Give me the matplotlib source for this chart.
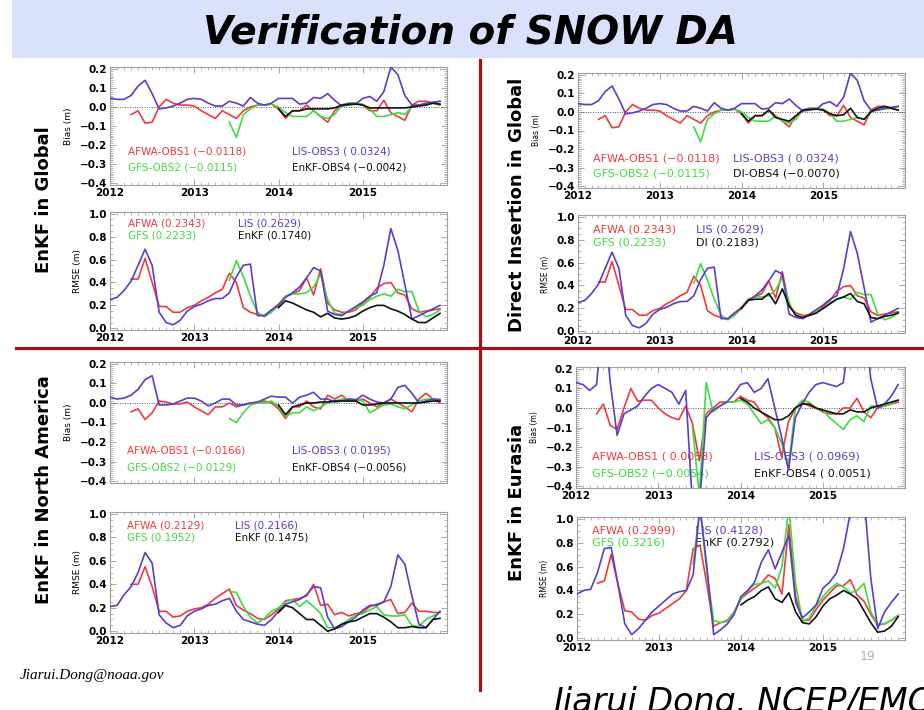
import numpy as np
import matplotlib
matplotlib.use("Agg")
import matplotlib.pyplot as plt
from matplotlib.patches import Rectangle
from matplotlib.lines import Line2D
from matplotlib.ticker import MultipleLocator, AutoMinorLocator

nan = np.nan
months = 2012 + np.arange(48) / 12.0
year_ticks = [2012, 2013, 2014, 2015]


def pad(start, vals):
    """Put vals on the 48-month grid, starting at month index start."""
    out = np.full(48, nan)
    vals = list(vals)[:48 - start]
    out[start:start + len(vals)] = vals
    return out


# ---------------- EnKF / DI in Global ----------------
glb_bias_afwa = pad(3, [-0.04, -0.02, -0.085, -0.08, 0.0, 0.04, 0.02, 0.01, 0.01, 0.005, -0.02, -0.04,
                        -0.06, -0.02, -0.04, -0.06, -0.02, 0.0, 0.01, 0.01, 0.015, -0.01, -0.06, -0.02,
                        -0.02, 0.01, -0.02, -0.05, -0.08, -0.02, 0.01, 0.02, 0.02, 0.01, -0.02, -0.02,
                        0.035, -0.03, -0.05, -0.07, 0.01, 0.03, 0.03, 0.02, 0.01])
glb_bias_gfs = pad(17, [-0.08, -0.16, -0.04, -0.01, 0.01, 0.01, 0.015, 0.0, -0.03, -0.05, -0.05, -0.05,
                        -0.02, -0.05, -0.06, -0.04, 0.01, 0.02, 0.02, 0.015, -0.01, -0.05, -0.05, -0.04,
                        -0.03, -0.04, 0.0, 0.01, 0.015, 0.02, 0.03])
glb_bias_lis = pad(0, [0.045, 0.04, 0.04, 0.06, 0.11, 0.14, 0.07, -0.01, -0.005, 0.005, 0.02, 0.04,
                       0.045, 0.04, 0.02, 0.005, 0.005, 0.03, 0.02, 0.005, 0.05, 0.02, 0.01, 0.02,
                       0.045, 0.045, 0.045, 0.015, 0.02, 0.05, 0.045, 0.07, 0.035, 0.005, 0.01, 0.015,
                       0.045, 0.055, 0.03, 0.08, 0.21, 0.17, 0.06, 0.01, 0.01, 0.02, 0.025, 0.03])
glb_bias_enkf = pad(24, [-0.01, -0.05, -0.02, -0.02, -0.01, -0.01, -0.01, -0.01, -0.005, 0.01, 0.015, 0.015,
                         0.01, -0.005, -0.005, -0.005, -0.005, -0.005, -0.005, 0.0, 0.005, 0.01, 0.02, 0.015])
glb_bias_di = pad(24, [-0.01, -0.05, -0.02, -0.02, 0.01, -0.03, -0.04, -0.05, -0.02, 0.01, 0.015, 0.015,
                       0.01, -0.01, -0.02, -0.015, 0.02, -0.03, -0.04, 0.0, 0.02, 0.03, 0.02, 0.01])

glb_rmse_afwa = pad(3, [0.43, 0.43, 0.61, 0.40, 0.19, 0.19, 0.14, 0.14, 0.18,
                        0.20, 0.24, 0.27, 0.31, 0.34, 0.48, 0.40, 0.18, 0.14, 0.12, 0.11, 0.16,
                        0.21, 0.28, 0.30, 0.33, 0.44, 0.29, 0.52, 0.22, 0.16, 0.14, 0.14, 0.16,
                        0.22, 0.27, 0.35, 0.39, 0.40, 0.31, 0.29, 0.17, 0.14, 0.15, 0.16, 0.17])
glb_rmse_gfs = pad(17, [0.42, 0.59, 0.45, 0.28, 0.14, 0.10, 0.14,
                        0.20, 0.28, 0.30, 0.30, 0.31, 0.36, 0.47, 0.25, 0.13, 0.12, 0.15, 0.18,
                        0.20, 0.25, 0.28, 0.30, 0.28, 0.34, 0.32, 0.32, 0.15, 0.10, 0.12, 0.16])
glb_rmse_lis = pad(0, [0.25, 0.27, 0.33, 0.41, 0.55, 0.69, 0.55, 0.14, 0.05, 0.03, 0.07, 0.15,
                       0.19, 0.21, 0.24, 0.26, 0.26, 0.31, 0.45, 0.55, 0.56, 0.11, 0.11, 0.16,
                       0.20, 0.27, 0.31, 0.36, 0.44, 0.53, 0.50, 0.15, 0.12, 0.11, 0.15, 0.19,
                       0.23, 0.28, 0.31, 0.55, 0.87, 0.68, 0.38, 0.08, 0.11, 0.14, 0.17, 0.20])
glb_rmse_enkf = pad(24, [0.18, 0.24, 0.22, 0.19, 0.16, 0.14, 0.10, 0.13, 0.09, 0.08, 0.09, 0.11,
                         0.15, 0.18, 0.20, 0.20, 0.17, 0.15, 0.12, 0.08, 0.05, 0.05, 0.09, 0.13])
glb_rmse_di = pad(24, [0.20, 0.27, 0.28, 0.28, 0.33, 0.24, 0.37, 0.22, 0.14, 0.12, 0.14, 0.16,
                       0.20, 0.24, 0.28, 0.30, 0.33, 0.26, 0.24, 0.12, 0.11, 0.13, 0.14, 0.16])

# ---------------- EnKF in North America ----------------
na_bias_afwa = pad(3, [-0.045, -0.03, -0.085, -0.05, 0.01, 0.005, -0.005, -0.005, 0.005,
                       -0.02, -0.04, -0.06, -0.02, -0.02, 0.0, -0.02, -0.01, 0.0, 0.0, 0.01, 0.0,
                       -0.03, -0.08, -0.02, -0.02, 0.01, -0.02, -0.03, 0.04, 0.02, 0.04, 0.01, 0.01,
                       0.02, 0.0, -0.02, 0.0, 0.02, 0.0, -0.02, -0.045, 0.02, 0.05, 0.02, 0.0])
na_bias_gfs = pad(17, [-0.08, -0.1, -0.05, -0.01, 0.0, 0.0, 0.01,
                       -0.02, -0.07, -0.05, -0.05, -0.02, -0.04, -0.02, 0.0, 0.01, 0.02, 0.02, 0.02,
                       0.01, -0.05, -0.03, -0.01, -0.005, -0.02, -0.03, -0.01, 0.01, 0.02, 0.02, 0.02])
na_bias_lis = pad(0, [0.03, 0.02, 0.025, 0.04, 0.07, 0.12, 0.14, -0.01, -0.01, -0.005, 0.01, 0.025,
                      0.025, 0.01, -0.015, 0.0, 0.02, 0.02, -0.01, -0.01, 0.0, 0.005, 0.02, 0.035,
                      0.03, 0.03, 0.0, 0.03, 0.04, 0.055, 0.02, 0.02, 0.005, 0.01, 0.02, 0.015,
                      0.04, 0.02, 0.005, 0.0, 0.02, 0.08, 0.09, 0.05, 0.0, 0.01, 0.02, 0.015])
na_bias_enkf = pad(24, [-0.01, -0.06, -0.02, -0.01, 0.0, 0.0, 0.005, 0.005, 0.01, 0.01, 0.01, 0.01,
                        -0.01, -0.01, -0.005, 0.0, 0.0, 0.0, 0.0, 0.0, 0.0, 0.005, 0.01, 0.01])

na_rmse_afwa = pad(3, [0.40, 0.40, 0.55, 0.38, 0.17, 0.17, 0.12, 0.13, 0.17,
                       0.19, 0.20, 0.23, 0.28, 0.32, 0.36, 0.22, 0.18, 0.15, 0.11, 0.10, 0.14,
                       0.19, 0.26, 0.27, 0.28, 0.30, 0.40, 0.22, 0.23, 0.14, 0.16, 0.13, 0.15,
                       0.16, 0.21, 0.23, 0.25, 0.27, 0.15, 0.16, 0.24, 0.17, 0.17, 0.16, 0.16])
na_rmse_gfs = pad(17, [0.34, 0.33, 0.21, 0.12, 0.07, 0.11, 0.17,
                       0.20, 0.25, 0.27, 0.21, 0.26, 0.21, 0.15, 0.03, 0.03, 0.06, 0.10, 0.14,
                       0.15, 0.18, 0.21, 0.14, 0.13, 0.13, 0.14, 0.05, 0.04, 0.10, 0.13, 0.16])
na_rmse_lis = pad(0, [0.21, 0.22, 0.31, 0.38, 0.50, 0.67, 0.58, 0.14, 0.07, 0.03, 0.05, 0.13,
                      0.17, 0.19, 0.22, 0.23, 0.26, 0.28, 0.17, 0.10, 0.08, 0.06, 0.05, 0.10,
                      0.17, 0.23, 0.25, 0.27, 0.31, 0.38, 0.37, 0.12, 0.02, 0.04, 0.08, 0.12,
                      0.18, 0.22, 0.22, 0.25, 0.38, 0.65, 0.57, 0.30, 0.06, 0.03, 0.10, 0.17])
na_rmse_enkf = pad(24, [0.16, 0.22, 0.20, 0.15, 0.10, 0.10, 0.05, 0.0, 0.02, 0.06, 0.08, 0.09,
                        0.12, 0.15, 0.15, 0.12, 0.08, 0.03, 0.03, 0.04, 0.03, 0.03, 0.10, 0.11])

# ---------------- EnKF in Eurasia ----------------
eu_bias_afwa = pad(3, [-0.03, 0.02, -0.09, -0.11, 0.0, 0.10, 0.035, 0.04, 0.04,
                       0.0, -0.03, -0.05, -0.06, 0.01, -0.08, -0.27, -0.03, 0.0, 0.03, 0.03, 0.03,
                       0.06, 0.04, 0.03, -0.02, -0.05, -0.10, -0.25, -0.07, 0.0, 0.03, 0.01, 0.0,
                       -0.02, -0.03, -0.03, 0.0, 0.0, 0.05, -0.02, -0.05, 0.0, 0.01, 0.02, 0.03])
eu_bias_gfs = pad(17, [-0.1, -0.45, 0.13, -0.02, 0.01, 0.03, 0.03,
                       0.04, 0.02, -0.03, -0.08, -0.06, -0.10, -0.18, -0.3, 0.0, 0.04, 0.03, 0.0,
                       -0.01, -0.05, -0.08, -0.11, -0.06, -0.04, -0.07, 0.01, 0.01, 0.01, 0.02, 0.04])
eu_bias_lis = pad(0, [0.13, 0.12, 0.09, 0.12, 0.5, 0.13, -0.14, -0.03, -0.01, 0.01, 0.06, 0.10,
                      0.12, 0.10, 0.08, 0.02, 0.09, -0.5, -0.5, -0.05, -0.01, 0.01, 0.03, 0.07,
                      0.12, 0.13, 0.08, 0.10, 0.15, 0.0, -0.15, -0.32, -0.05, 0.02, 0.08, 0.12,
                      0.13, 0.12, 0.11, 0.13, 0.4, 0.6, 0.5, 0.15, 0.0, 0.02, 0.06, 0.12])
eu_bias_enkf = pad(24, [0.05, 0.03, 0.0, -0.02, -0.04, -0.06, -0.06, -0.04, 0.0, 0.02, 0.02, 0.0,
                        -0.01, -0.02, -0.03, -0.03, -0.01, -0.02, -0.02, 0.0, 0.01, 0.02, 0.03, 0.04])

eu_rmse_afwa = pad(3, [0.46, 0.48, 0.70, 0.45, 0.23, 0.22, 0.16, 0.15, 0.19,
                       0.21, 0.25, 0.29, 0.33, 0.40, 0.75, 0.78, 0.45, 0.10, 0.13, 0.15, 0.22,
                       0.33, 0.38, 0.42, 0.46, 0.53, 0.50, 0.37, 0.95, 0.35, 0.15, 0.15, 0.24,
                       0.32, 0.38, 0.44, 0.44, 0.49, 0.36, 0.31, 0.20, 0.11, 0.12, 0.15, 0.19])
eu_rmse_gfs = pad(17, [0.62, 1.1, 0.55, 0.15, 0.13, 0.14, 0.22,
                       0.33, 0.40, 0.45, 0.46, 0.48, 0.42, 0.60, 1.1, 0.45, 0.14, 0.17, 0.27,
                       0.35, 0.41, 0.46, 0.43, 0.38, 0.40, 0.46, 0.22, 0.12, 0.12, 0.15, 0.19])
eu_rmse_lis = pad(0, [0.37, 0.40, 0.41, 0.55, 0.75, 0.76, 0.45, 0.12, 0.03, 0.08, 0.15, 0.22,
                      0.27, 0.32, 0.37, 0.39, 0.40, 0.53, 1.1, 0.6, 0.03, 0.07, 0.12, 0.20,
                      0.35, 0.40, 0.47, 0.64, 0.74, 0.58, 0.72, 0.86, 0.30, 0.17, 0.22, 0.28,
                      0.42, 0.47, 0.55, 0.75, 1.05, 1.3, 1.2, 0.5, 0.08, 0.22, 0.30, 0.37])
eu_rmse_enkf = pad(24, [0.28, 0.32, 0.35, 0.40, 0.43, 0.33, 0.30, 0.38, 0.22, 0.13, 0.12, 0.18,
                        0.27, 0.33, 0.36, 0.40, 0.37, 0.33, 0.23, 0.13, 0.05, 0.06, 0.10, 0.18])

# legend strings
glb_bias_txt = ["AFWA-OBS1 (\u22120.0118)", "GFS-OBS2 (\u22120.0115)", "LIS-OBS3 ( 0.0324)", "EnKF-OBS4 (\u22120.0042)"]
glb_rmse_txt = ["AFWA (0.2343)", "GFS (0.2233)", "LIS (0.2629)", "EnKF (0.1740)"]
di_bias_txt = ["AFWA-OBS1 (\u22120.0118)", "GFS-OBS2 (\u22120.0115)", "LIS-OBS3 ( 0.0324)", "DI-OBS4 (\u22120.0070)"]
di_rmse_txt = ["AFWA (0.2343)", "GFS (0.2233)", "LIS (0.2629)", "DI (0.2183)"]
na_bias_txt = ["AFWA-OBS1 (\u22120.0166)", "GFS-OBS2 (\u22120.0129)", "LIS-OBS3 ( 0.0195)", "EnKF-OBS4 (\u22120.0056)"]
na_rmse_txt = ["AFWA (0.2129)", "GFS (0.1952)", "LIS (0.2166)", "EnKF (0.1475)"]
eu_bias_txt = ["AFWA-OBS1 ( 0.0058)", "GFS-OBS2 (\u22120.0054)", "LIS-OBS3 ( 0.0969)", "EnKF-OBS4 ( 0.0051)"]
eu_rmse_txt = ["AFWA (0.2999)", "GFS (0.3216)", "LIS (0.4128)", "EnKF (0.2792)"]

RED, GREEN, BLUE, BLACK = "#ee3b3b", "#3fdc3f", "#5b3ccc", "#111111"
W, H = 924, 710

fig = plt.figure(figsize=(W / 100, H / 100), dpi=100)
fig.patch.set_facecolor("white")


def px_axes(l, t, r, b):
    return fig.add_axes([l / W, 1 - b / H, (r - l) / W, (b - t) / H])


def style(ax, kind, xlabels=True, small=False):
    ax.set_xlim(2012, 2016)
    ax.xaxis.set_major_locator(MultipleLocator(1))
    ax.xaxis.set_minor_locator(AutoMinorLocator(12))
    if kind == "bias":
        ax.set_ylim(-0.41, 0.21)
        ax.yaxis.set_major_locator(MultipleLocator(0.1))
        ax.yaxis.set_minor_locator(AutoMinorLocator(10))
        ax.set_ylabel("Bias (m)", fontsize=5.5 if small else 6.5, labelpad=5)
    else:
        ax.set_ylim(-0.015, 1.015)
        ax.yaxis.set_major_locator(MultipleLocator(0.2))
        ax.yaxis.set_minor_locator(AutoMinorLocator(4))
        ax.set_ylabel("RMSE (m)", fontsize=5.5 if small else 6.5, labelpad=5)
    ax.yaxis.set_major_formatter(plt.FuncFormatter(lambda v, p: ("%.1f" % v).replace("-", "\u2212")))
    ax.set_xticks(year_ticks)
    ax.set_xticklabels([str(y) for y in year_ticks] if xlabels else [])
    ax.tick_params(which="both", direction="in", top=True, right=True, color="#9a9a9a",
                   labelsize=7.5, pad=2)
    ax.tick_params(which="major", length=4, width=0.6)
    ax.tick_params(which="minor", length=2, width=0.5)
    for lab in ax.get_xticklabels() + ax.get_yticklabels():
        lab.set_fontweight("bold")
    for s in ax.spines.values():
        s.set_color("#a0a0a0")
        s.set_linewidth(0.8)


def draw(ax, series, labels, kind, tx, ty, fs=8):
    for y, c in zip(series, [RED, GREEN, BLUE, BLACK]):
        ax.plot(months, y, color=c, lw=1.2, zorder=3)
    if kind == "bias":
        ax.axhline(0, color="#555555", lw=0.7, ls=(0, (1, 1.5)), zorder=2)
    cols = [RED, GREEN, BLUE, BLACK]
    pos = [(tx[0], ty[0]), (tx[0], ty[1]), (tx[1], ty[0]), (tx[1], ty[1])]
    for s, c, (x, y) in zip(labels, cols, pos):
        ax.text(x, y, s, color=c, fontsize=fs, transform=ax.transAxes, va="center", ha="left", zorder=1)


# top left: EnKF in Global
ax = px_axes(110, 67, 447, 185)
style(ax, "bias")
draw(ax, [glb_bias_afwa, glb_bias_gfs, glb_bias_lis, glb_bias_enkf], glb_bias_txt, "bias",
     (0.053, 0.54), (0.28, 0.15), fs=7.5)
ax = px_axes(110, 212, 447, 330)
style(ax, "rmse")
draw(ax, [glb_rmse_afwa, glb_rmse_gfs, glb_rmse_lis, glb_rmse_enkf], glb_rmse_txt, "rmse",
     (0.053, 0.38), (0.90, 0.80), fs=7.5)

# top right: Direct Insertion in Global
ax = px_axes(578, 73, 905, 188)
style(ax, "bias", small=True)
draw(ax, [glb_bias_afwa, glb_bias_gfs, glb_bias_lis, glb_bias_di], di_bias_txt, "bias",
     (0.046, 0.475), (0.26, 0.13))
ax = px_axes(578, 215, 905, 333)
style(ax, "rmse", small=True)
draw(ax, [glb_rmse_afwa, glb_rmse_gfs, glb_rmse_lis, glb_rmse_di], di_rmse_txt, "rmse",
     (0.046, 0.36), (0.88, 0.77))

# bottom left: EnKF in North America
ax = px_axes(110, 362, 447, 483)
style(ax, "bias", xlabels=False)
draw(ax, [na_bias_afwa, na_bias_gfs, na_bias_lis, na_bias_enkf], na_bias_txt, "bias",
     (0.05, 0.54), (0.27, 0.13), fs=7.5)
ax = px_axes(110, 512, 447, 633)
style(ax, "rmse")
draw(ax, [na_rmse_afwa, na_rmse_gfs, na_rmse_lis, na_rmse_enkf], na_rmse_txt, "rmse",
     (0.05, 0.37), (0.89, 0.79), fs=7.5)

# bottom right: EnKF in Eurasia
ax = px_axes(576, 367, 905, 488)
style(ax, "bias", small=True)
draw(ax, [eu_bias_afwa, eu_bias_gfs, eu_bias_lis, eu_bias_enkf], eu_bias_txt, "bias",
     (0.05, 0.54), (0.26, 0.12))
ax = px_axes(577, 517, 905, 640)
style(ax, "rmse", small=True)
draw(ax, [eu_rmse_afwa, eu_rmse_gfs, eu_rmse_lis, eu_rmse_enkf], eu_rmse_txt, "rmse",
     (0.045, 0.36), (0.89, 0.79))

# slide decorations
fig.patches.append(Rectangle((12 / W, 1 - 58 / H), 1, 58 / H, transform=fig.transFigure,
                             facecolor="#d9e2fa", edgecolor="none", zorder=0))
fig.text(470 / W, 1 - 32 / H, "Verification of SNOW DA", fontsize=28, fontweight="bold",
         style="italic", ha="center", va="center")
fig.lines.append(Line2D([16 / W, 1], [1 - 348 / H] * 2, transform=fig.transFigure,
                        color="#9b1515", lw=2.3))
fig.lines.append(Line2D([480 / W] * 2, [1 - 60 / H, 1 - 690 / H], transform=fig.transFigure,
                        color="#9b1515", lw=2.3))

for x, y, s in [(44, 200, "EnKF in Global"), (517, 205, "Direct Insertion in Global"),
                (44, 490, "EnKF in North America"), (517, 502, "EnKF in Eurasia")]:
    fig.text(x / W, 1 - y / H, s, rotation=90, fontsize=13, fontweight="bold",
             ha="center", va="center")

fig.text(20 / W, 1 - 675 / H, "Jiarui.Dong@noaa.gov", family="Liberation Serif", style="italic",
         fontsize=11, ha="left", va="center")
fig.text(553 / W, 1 - 712 / H, "Jiarui Dong, NCEP/EMC", style="italic", fontsize=24,
         ha="left", va="baseline")
fig.text(868 / W, 1 - 657 / H, "19", color="#b0b0b0", fontsize=9, ha="center", va="center")

fig.savefig("out.png", dpi=100)
